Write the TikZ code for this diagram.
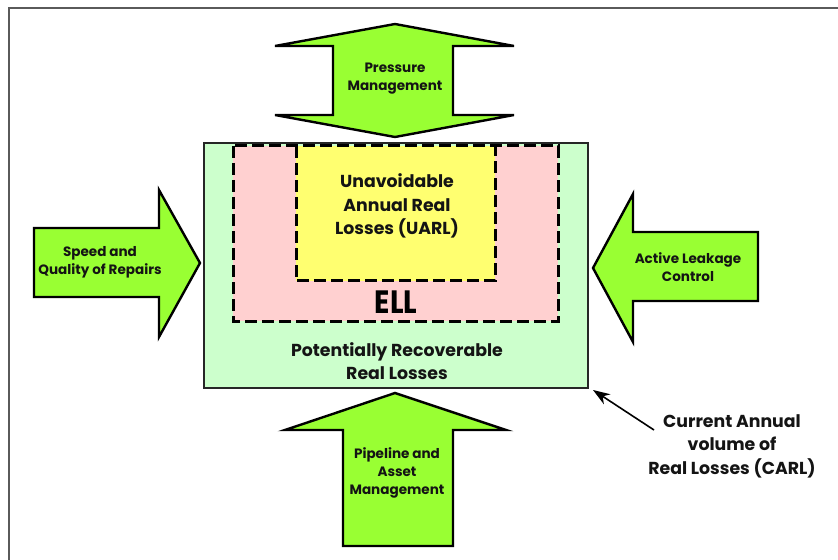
\documentclass[tikz,border=0pt]{standalone}
\usepackage{fontspec}
\setmainfont{Poppins}
\usetikzlibrary{arrows.meta,calc}
\definecolor{arrowgreen}{RGB}{153,255,51}
\definecolor{mint}{RGB}{204,255,204}
\definecolor{rose}{RGB}{255,208,208}
\definecolor{lemon}{RGB}{255,255,112}
\definecolor{framegray}{RGB}{90,90,90}
\tikzset{
  bigarrow/.style={fill=arrowgreen,draw=black,line width=2.4bp,line join=miter},
  lossbox/.style={draw=black,line width=3bp,dash pattern=on 12bp off 5bp},
  small/.style={font=\bfseries\fontsize{13.6}{18}\selectfont,align=center,text=black!92},
  large/.style={font=\bfseries\fontsize{17.4}{23.5}\selectfont,align=center,text=black!92},
}
\begin{document}
\begin{tikzpicture}[x=1bp,y=-1bp]
\useasboundingbox (0,0) rectangle (838,560);
\fill[white] (0,0) rectangle (838,560);
% page frame (top and left edges)
\draw[framegray,line width=1.6bp] (9,560) -- (9,8) -- (838,8);

% nested loss boxes
\fill[mint] (204,143) rectangle (588,388);
\draw[black!85,line width=2bp] (204,143) rectangle (588,388);
\fill[rose] (233,146) rectangle (558,321);
\fill[lemon] (296,146) rectangle (495,281);
\draw[lossbox] (233,146) rectangle (558,321);
\draw[lossbox] (296,146) -- (296,281) -- (495,281) -- (495,146);
\coordinate (outer) at (588,388);

% pressure management: double arrow above the boxes
\draw[bigarrow] (395,24) -- (514,46) -- (453,46) -- (453,115) -- (514,115)
  -- (395,137) -- (275,115) -- (333,115) -- (333,46) -- (275,46) -- cycle;
% speed and quality of repairs: arrow from the left
\draw[bigarrow] (34,228) -- (159,228) -- (159,190) -- (200,263) -- (159,337)
  -- (159,297) -- (34,297) -- cycle;
% active leakage control: arrow from the right
\draw[bigarrow] (758,232) -- (633,232) -- (633,194) -- (593,268) -- (633,342)
  -- (633,301) -- (758,301) -- cycle;
% pipeline and asset management: arrow from below
\draw[bigarrow] (395,393) -- (506,430) -- (453,430) -- (453,546) -- (343,546)
  -- (343,430) -- (285,430) -- cycle;

% labels
\node[small] (pm) at (395,79) {Pressure\\Management};
\node[small] (sq) at (100,262) {Speed and\\Quality of Repairs};
\node[small] (alc) at (688,267) {Active Leakage\\Control};
\node[small] (pam) at (397,473) {Pipeline and\\Asset\\Management};
\node[large] (uarl) at (397,206) {Unavoidable\\Annual Real\\Losses (UARL)};
\node[font=\bfseries\fontsize{30}{30}\selectfont,text=black,xscale=0.95,yscale=1.08] (ell) at (396,302) {ELL};
\node[large] (prl) at (397,361) {Potentially Recoverable\\Real Losses};
\node[large] (carl) at (732,446) {Current Annual\\volume of\\Real Losses (CARL)};

% pointer to the outer box
\coordinate (carltail) at (654,430);
\draw[line width=1.6bp,-{Stealth[length=17bp,width=12bp]}] (carltail) -- ($(outer)+(5,2)$);
\end{tikzpicture}
\end{document}
